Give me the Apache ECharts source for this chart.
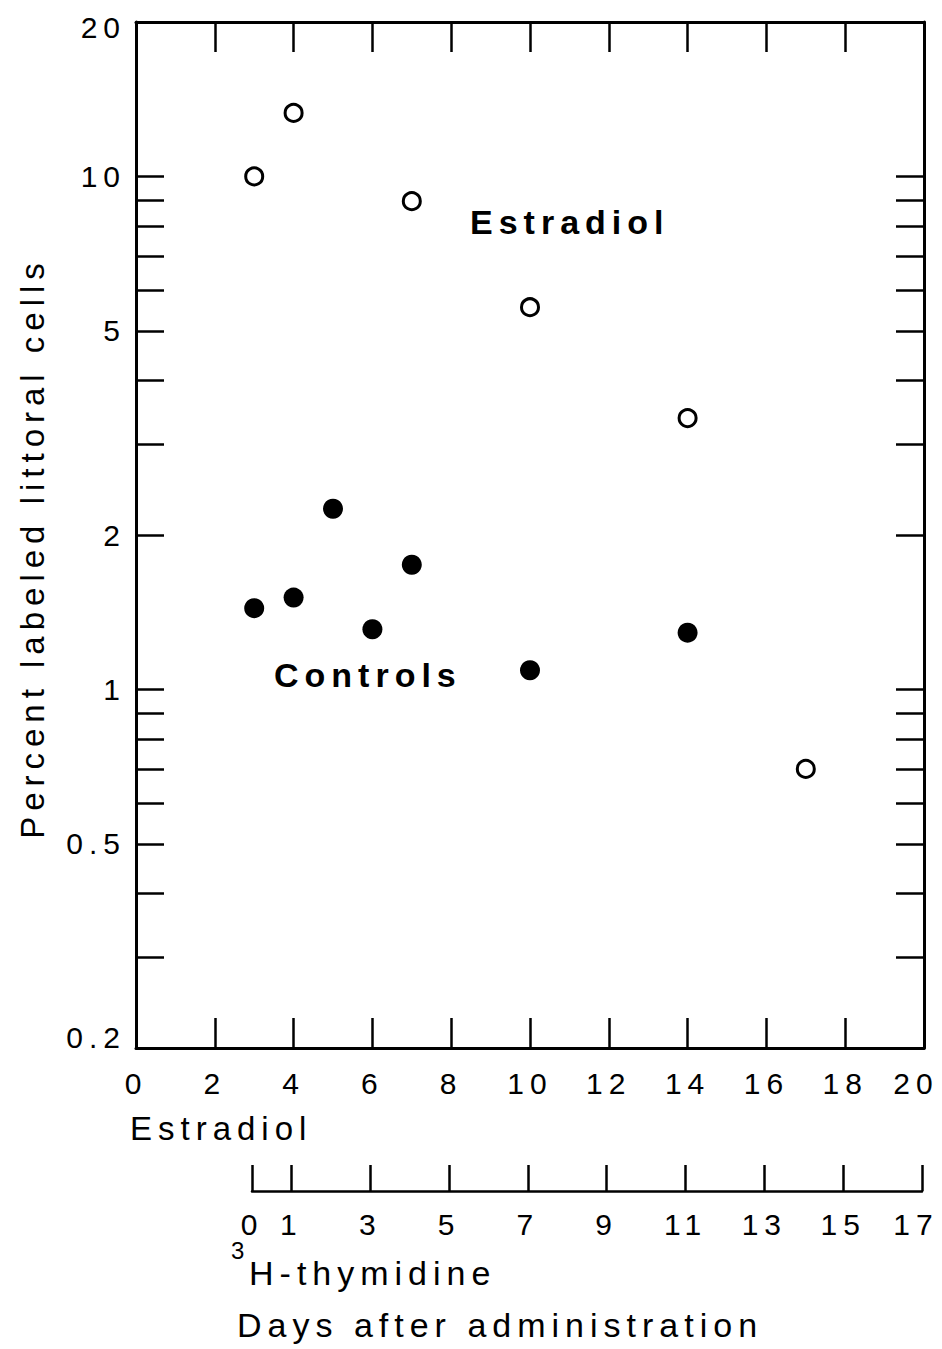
<!DOCTYPE html>
<html>
<head>
<meta charset="utf-8">
<script src="https://cdn.jsdelivr.net/npm/echarts@6/dist/echarts.min.js"></script>
<style>
  html, body { margin: 0; padding: 0; background: #fff; }
  #chart { width: 942px; height: 1349px; }
  /* the printed figure uses very open letter spacing */
  #chart text { letter-spacing: 6px; }
</style>
</head>
<body>
<div id="chart"></div>
<script>
const estradiolDays = [3, 4, 7, 10, 14, 17]
const estradiolPct = [10, 13.3, 8.95, 5.56, 3.38, 0.7]
const controlDays = [3, 4, 5, 6, 7, 10, 14]
const controlPct = [1.44, 1.51, 2.25, 1.31, 1.75, 1.09, 1.29]
const pctLabels = [0.2, 0.5, 1, 2, 5, 10, 20]
const pctTicks = [0.3, 0.4, 0.5, 0.6, 0.7, 0.8, 0.9, 1, 2, 3, 4, 5, 6, 7, 8, 9, 10]
const thymidineTicks = [0, 1, 3, 5, 7, 9, 11, 13, 15, 17]

const ink = '#000'
const font = '"Liberation Sans", Arial, sans-serif'

const near = (a, b) => Math.abs(a - b) < 1e-6

const pctAxis = (side, withLabels) => ({
  type: 'log',
  logBase: 10,
  gridIndex: 0,
  position: side,
  min: 0.2,
  max: 20,
  axisLine: { show: true, onZero: false, lineStyle: { color: ink, width: 3 } },
  axisTick: {
    show: true,
    inside: true,
    length: 28,
    customValues: pctTicks,
    lineStyle: { color: ink, width: 2.5 }
  },
  axisLabel: {
    show: withLabels,
    customValues: pctLabels,
    margin: 10,
    fontSize: 30,
    fontFamily: font,
    color: ink,
    formatter: (v) => {
      if (near(v, 0.2)) return '{lo|0.2}'
      if (near(v, 20)) return '{hi|20}'
      return String(+v.toPrecision(3))
    },
    rich: {
      lo: { fontSize: 30, fontFamily: font, color: ink, padding: [0, 0, 22, 0] },
      hi: { fontSize: 30, fontFamily: font, color: ink, padding: [10, 0, 0, 0] }
    }
  },
  splitLine: { show: false }
})

const dayAxis = (side, withLabels) => ({
  type: 'value',
  gridIndex: 0,
  position: side,
  min: 0,
  max: 20,
  interval: 2,
  axisLine: { show: true, onZero: false, lineStyle: { color: ink, width: 3 } },
  axisTick: { show: true, inside: true, length: 30, lineStyle: { color: ink, width: 2.5 } },
  axisLabel: {
    show: withLabels,
    margin: 20,
    fontSize: 30,
    lineHeight: 30,
    fontFamily: font,
    color: ink,
    showMinLabel: true,
    showMaxLabel: true,
    formatter: (v) => (v === 20 ? '{r|20}' : String(v)),
    rich: { r: { fontSize: 30, fontFamily: font, color: ink, padding: [0, 16, 0, 0] } }
  },
  splitLine: { show: false }
})

const txt = (text, x, y, size, extra) => ({
  type: 'text',
  x: x,
  y: y,
  silent: true,
  style: Object.assign({
    text: text,
    fontSize: size,
    fontFamily: font,
    fill: ink,
    align: 'left',
    verticalAlign: 'middle'
  }, extra || {})
})

const option = {
  animation: false,
  backgroundColor: '#fff',
  grid: [
    { left: 136, right: 18, top: 22, bottom: 301, outerBoundsMode: 'none', containLabel: false },
    { left: 252, right: 20, top: 1100, bottom: 158, outerBoundsMode: 'none', containLabel: false }
  ],
  xAxis: [
    dayAxis('bottom', true),
    dayAxis('top', false),
    {
      type: 'value',
      gridIndex: 1,
      position: 'bottom',
      min: 0,
      max: 17,
      axisLine: { show: true, onZero: false, lineStyle: { color: ink, width: 2.5 } },
      axisTick: {
        show: true,
        inside: true,
        length: 26,
        customValues: thymidineTicks,
        lineStyle: { color: ink, width: 2.5 }
      },
      axisLabel: {
        customValues: thymidineTicks,
        margin: 18,
        fontSize: 30,
        lineHeight: 30,
        fontFamily: font,
        color: ink,
        formatter: (v) => (v === 17 ? '{r|17}' : String(v)),
        rich: { r: { fontSize: 30, fontFamily: font, color: ink, padding: [0, 12, 0, 0] } }
      },
      splitLine: { show: false }
    }
  ],
  yAxis: [
    pctAxis('left', true),
    pctAxis('right', false),
    { type: 'value', gridIndex: 1, show: false }
  ],
  series: [
    {
      name: 'Estradiol',
      type: 'scatter',
      xAxisIndex: 0,
      yAxisIndex: 0,
      symbol: 'circle',
      symbolSize: 17,
      itemStyle: { color: '#fff', borderColor: ink, borderWidth: 3, opacity: 1 },
      data: estradiolDays.map((d, i) => [d, estradiolPct[i]])
    },
    {
      name: 'Controls',
      type: 'scatter',
      xAxisIndex: 0,
      yAxisIndex: 0,
      symbol: 'circle',
      symbolSize: 20,
      itemStyle: { color: ink, opacity: 1 },
      data: controlDays.map((d, i) => [d, controlPct[i]])
    }
  ],
  graphic: [
    txt('Estradiol', 470, 222, 34, { fontWeight: 'bold' }),
    txt('Controls', 274, 675, 34, { fontWeight: 'bold' }),
    txt('Estradiol', 130, 1128, 33),
    txt('3', 231, 1250, 24),
    txt('H-thymidine', 249, 1273, 34),
    txt('Days after administration', 237, 1325, 34),
    Object.assign(txt('Percent labeled littoral cells', 32, 548, 33, { align: 'center' }), {
      rotation: Math.PI / 2
    })
  ]
}

const chart = echarts.init(document.getElementById('chart'), null, { renderer: 'svg' })
chart.setOption(option)
</script>
</body>
</html>
